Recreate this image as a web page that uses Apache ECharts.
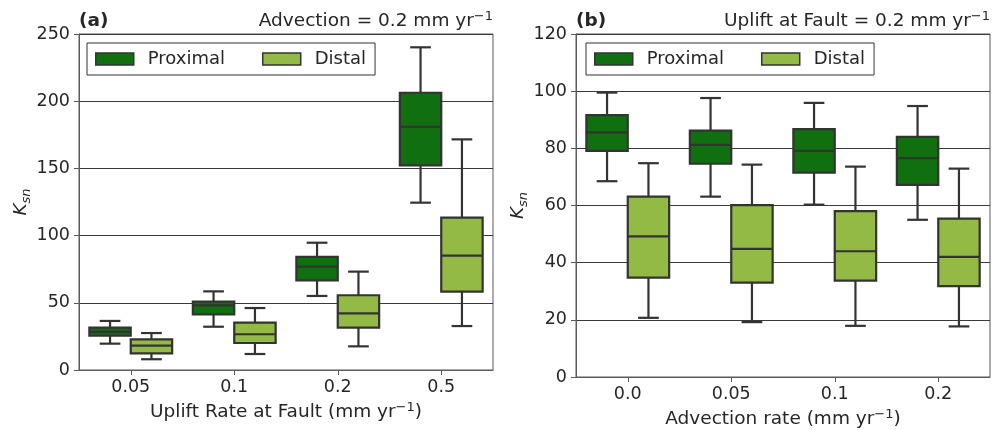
<!DOCTYPE html>
<html>
<head>
<meta charset="utf-8">
<script src="https://cdn.jsdelivr.net/npm/echarts@6/dist/echarts.min.js"></script>
<style>
  html, body { margin: 0; padding: 0; background: #ffffff; }
  #chart { width: 1004px; height: 430px; }
</style>
</head>
<body>
<div id="chart"></div>
<script>
// Category labels of the two panels
const upliftCats = ['0.05', '0.1', '0.2', '0.5'];
const advectionCats = ['0.0', '0.05', '0.1', '0.2'];

// Box statistics per category: [lower whisker, Q1, median, Q3, upper whisker]
const upliftProximal = [
  [19.6, 25.5, 28.3, 31.5, 36.5],
  [32.2, 41.4, 48.1, 50.8, 58.5],
  [55.1, 66.7, 76.9, 84.1, 94.7],
  [124.5, 152.3, 181.0, 206.3, 240.1]
];
const upliftDistal = [
  [8.0, 12.4, 18.1, 22.8, 27.5],
  [11.9, 20.1, 26.6, 35.2, 46.1],
  [17.6, 31.5, 42.2, 55.6, 73.2],
  [32.7, 58.3, 85.1, 113.3, 171.6]
];
const advectionProximal = [
  [68.5, 79.1, 85.6, 91.6, 99.5],
  [63.1, 74.6, 81.2, 86.2, 97.6],
  [60.3, 71.5, 79.1, 86.7, 95.9],
  [55.0, 67.2, 76.6, 84.0, 94.8]
];
const advectionDistal = [
  [20.7, 34.8, 49.2, 63.1, 74.8],
  [19.2, 33.0, 44.8, 60.1, 74.3],
  [17.9, 33.7, 44.0, 58.0, 73.6],
  [17.7, 31.8, 42.0, 55.4, 72.9]
];

// Y axis ticks
const upliftTicks = { min: 0, max: 250, interval: 50 };
const advectionTicks = { min: 0, max: 120, interval: 20 };

const FONT = 'DejaVu Sans';
const TXT = '#262626';
const EDGE = '#333333';
const FRAME = '#5a5a5a';
const GRIDLINE = '#3a3a3a';
const COLOR_PROX = '#107010';
const COLOR_DIST = '#93ba45';
const TICK_SIZE = 17.5;
const LABEL_SIZE = 18.5;

// rich-text styles for a main run plus a superscript run
function supRich(size, weight) {
  return {
    t: { fontSize: size, fontFamily: FONT, color: TXT, fontWeight: weight || 'normal', verticalAlign: 'middle' },
    s: { fontSize: Math.round(size * 0.7), fontFamily: FONT, color: TXT, fontWeight: 'normal', verticalAlign: 'top' }
  };
}
// rich-text styles for italic K with subscript "sn"
const ksnRich = {
  k: { fontSize: 18.5, fontFamily: FONT, fontStyle: 'italic', color: TXT, verticalAlign: 'middle' },
  s: { fontSize: 13, fontFamily: FONT, fontStyle: 'italic', color: TXT, verticalAlign: 'bottom' }
};

function toRows(stats) {
  return stats.map((s, i) => [i].concat(s));
}

// One box per category, shifted left (side=-1) or right (side=+1) of the category centre
function drawBox(side, fill) {
  return function (params, api) {
    const i = api.value(0);
    const band = api.size([1, 0])[0];
    const half = band * 0.2;
    const cx = api.coord([i, 0])[0] + side * half;
    const py = k => api.coord([i, api.value(k)])[1];
    const lo = py(1), q1 = py(2), med = py(3), q3 = py(4), hi = py(5);
    const line = { stroke: EDGE, lineWidth: 2.2 };
    const cap = half / 2;
    return {
      type: 'group',
      children: [
        { type: 'line', shape: { x1: cx, y1: q1, x2: cx, y2: lo }, style: line },
        { type: 'line', shape: { x1: cx, y1: q3, x2: cx, y2: hi }, style: line },
        { type: 'line', shape: { x1: cx - cap, y1: lo, x2: cx + cap, y2: lo }, style: line },
        { type: 'line', shape: { x1: cx - cap, y1: hi, x2: cx + cap, y2: hi }, style: line },
        { type: 'rect', shape: { x: cx - half, y: q3, width: 2 * half, height: q1 - q3 },
          style: { fill: fill, stroke: EDGE, lineWidth: 2.2 } },
        { type: 'line', shape: { x1: cx - half, y1: med, x2: cx + half, y2: med }, style: line }
      ]
    };
  };
}

function boxSeries(name, axisIdx, stats, side, color) {
  return {
    type: 'custom',
    name: name,
    xAxisIndex: axisIdx,
    yAxisIndex: axisIdx,
    data: toRows(stats),
    encode: { x: 0, y: [1, 2, 3, 4, 5] },
    itemStyle: { color: color, borderColor: EDGE, borderWidth: 1.5 },
    renderItem: drawBox(side, color),
    silent: true
  };
}

function xAxisFor(gridIndex, cats, nameText) {
  return {
    type: 'category',
    gridIndex: gridIndex,
    data: cats,
    boundaryGap: true,
    axisLine: { show: true, lineStyle: { color: FRAME, width: 1 } },
    axisTick: { show: true, alignWithLabel: true, length: 5, lineStyle: { color: FRAME } },
    axisLabel: { fontSize: TICK_SIZE, fontFamily: FONT, color: TXT, margin: 8 },
    splitLine: { show: false },
    name: nameText,
    nameLocation: 'middle',
    nameGap: 31,
    nameTextStyle: { lineHeight: 23, rich: supRich(LABEL_SIZE) }
  };
}

function yAxisFor(gridIndex, ticks) {
  return {
    type: 'value',
    gridIndex: gridIndex,
    min: ticks.min,
    max: ticks.max,
    interval: ticks.interval,
    axisLine: { show: true, lineStyle: { color: FRAME, width: 1 } },
    axisTick: { show: true, length: 5, lineStyle: { color: FRAME } },
    axisLabel: { fontSize: TICK_SIZE, fontFamily: FONT, color: TXT, margin: 9 },
    splitLine: { show: true, lineStyle: { color: GRIDLINE, width: 1 } },
    name: '{k|K}{s|sn}',
    nameLocation: 'middle',
    nameGap: 46,
    nameTextStyle: { lineHeight: 24, rich: ksnRich }
  };
}

function legendAt(left) {
  return {
    left: left,
    top: 43,
    orient: 'horizontal',
    icon: 'rect',
    itemWidth: 38,
    itemHeight: 12,
    itemGap: 37,
    padding: [7, 9, 7, 8],
    borderColor: '#333333',
    borderWidth: 1,
    backgroundColor: '#ffffff',
    selectedMode: false,
    textStyle: { fontSize: 18, fontFamily: FONT, color: TXT, padding: [0, 0, 0, 9] },
    data: [
      { name: 'Proximal', itemStyle: { color: COLOR_PROX, borderColor: EDGE, borderWidth: 1.5 } },
      { name: 'Distal', itemStyle: { color: COLOR_DIST, borderColor: EDGE, borderWidth: 1.5 } }
    ]
  };
}

function titleAt(pos, text, rich) {
  return Object.assign({
    top: 10, padding: 0, text: text,
    textStyle: { lineHeight: 23, fontWeight: 'normal', rich: rich }
  }, pos);
}

const chart = echarts.init(document.getElementById('chart'), null, { renderer: 'canvas' });

chart.setOption({
  animation: false,
  backgroundColor: '#ffffff',
  title: [
    titleAt({ left: 79 }, '{t|(a)}', supRich(LABEL_SIZE, 'bold')),
    titleAt({ right: 511 }, '{t|Advection = 0.2 mm yr}{s|−1}', supRich(LABEL_SIZE)),
    titleAt({ left: 576 }, '{t|(b)}', supRich(LABEL_SIZE, 'bold')),
    titleAt({ right: 14 }, '{t|Uplift at Fault = 0.2 mm yr}{s|−1}', supRich(LABEL_SIZE))
  ],
  legend: [legendAt(87), legendAt(586)],
  grid: [
    { left: 79, top: 34, width: 414, height: 336, show: true, borderColor: FRAME, borderWidth: 1,
      backgroundColor: 'transparent', outerBoundsMode: 'none' },
    { left: 576, top: 34, width: 414, height: 343, show: true, borderColor: FRAME, borderWidth: 1,
      backgroundColor: 'transparent', outerBoundsMode: 'none' }
  ],
  xAxis: [
    xAxisFor(0, upliftCats, '{t|Uplift Rate at Fault (mm yr}{s|−1}{t|)}'),
    xAxisFor(1, advectionCats, '{t|Advection rate (mm yr}{s|−1}{t|)}')
  ],
  yAxis: [
    yAxisFor(0, upliftTicks),
    yAxisFor(1, advectionTicks)
  ],
  series: [
    boxSeries('Proximal', 0, upliftProximal, -1, COLOR_PROX),
    boxSeries('Distal', 0, upliftDistal, 1, COLOR_DIST),
    boxSeries('Proximal', 1, advectionProximal, -1, COLOR_PROX),
    boxSeries('Distal', 1, advectionDistal, 1, COLOR_DIST)
  ]
});
</script>
</body>
</html>
